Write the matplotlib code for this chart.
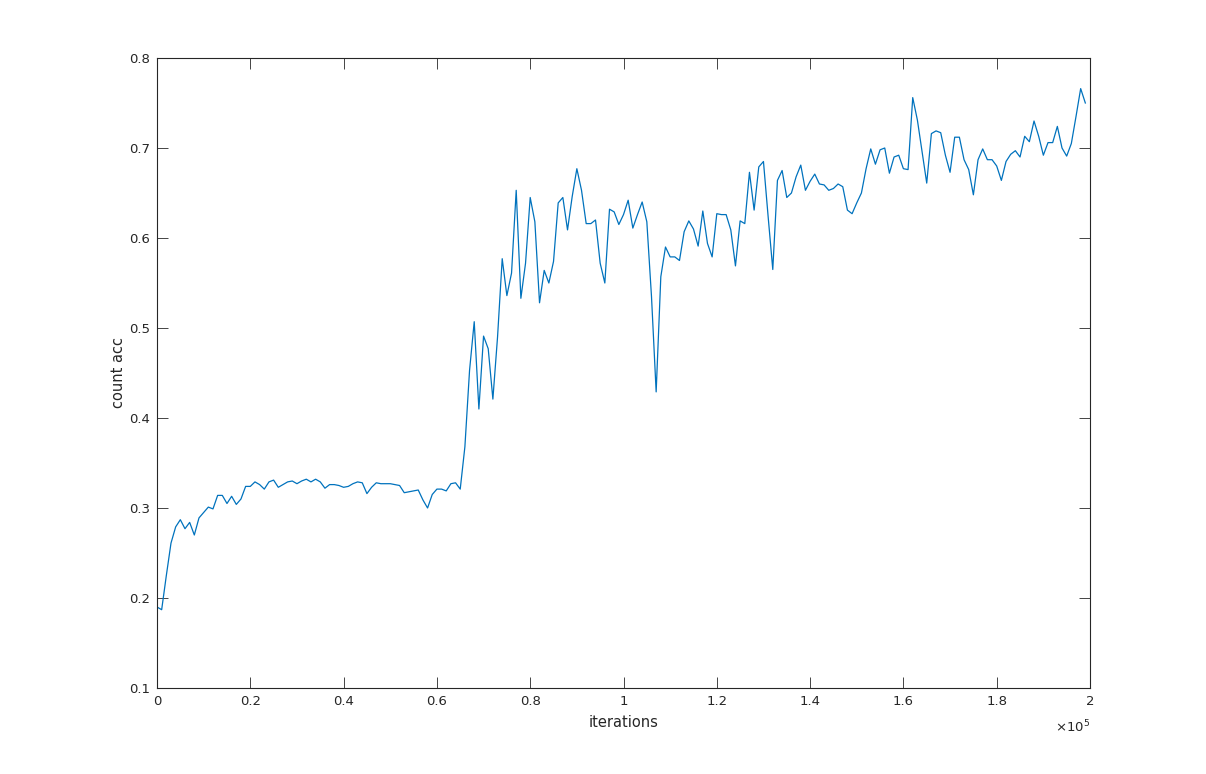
import matplotlib
matplotlib.use("Agg")
import matplotlib.pyplot as plt
import numpy as np

plt.rcParams['font.family'] = ['DejaVu Sans']
plt.rcParams['mathtext.fontset'] = 'dejavusans'

iterations = np.arange(0, 200000, 1000)
count_acc = [
    0.190, 0.187, 0.225, 0.261, 0.279, 0.287, 0.277, 0.284, 0.270, 0.289,
    0.295, 0.301, 0.299, 0.314, 0.314, 0.305, 0.313, 0.304, 0.310, 0.324,
    0.324, 0.329, 0.326, 0.321, 0.329, 0.331, 0.323, 0.326, 0.329, 0.330,
    0.327, 0.330, 0.332, 0.329, 0.332, 0.329, 0.322, 0.326, 0.326, 0.325,
    0.323, 0.324, 0.327, 0.329, 0.328, 0.316, 0.323, 0.328, 0.327, 0.327,
    0.327, 0.326, 0.325, 0.317, 0.318, 0.319, 0.320, 0.309, 0.300, 0.315,
    0.321, 0.321, 0.319, 0.327, 0.328, 0.321, 0.368, 0.453, 0.507, 0.410,
    0.491, 0.477, 0.421, 0.490, 0.577, 0.536, 0.561, 0.653, 0.533, 0.572,
    0.645, 0.618, 0.528, 0.564, 0.550, 0.574, 0.639, 0.645, 0.609, 0.646,
    0.677, 0.653, 0.616, 0.616, 0.620, 0.572, 0.550, 0.632, 0.629, 0.615,
    0.626, 0.642, 0.611, 0.626, 0.640, 0.618, 0.535, 0.429, 0.557, 0.590,
    0.579, 0.579, 0.575, 0.607, 0.619, 0.610, 0.591, 0.630, 0.594, 0.579,
    0.627, 0.626, 0.626, 0.609, 0.569, 0.619, 0.616, 0.673, 0.631, 0.679,
    0.685, 0.624, 0.565, 0.664, 0.675, 0.645, 0.650, 0.668, 0.681, 0.653,
    0.663, 0.671, 0.660, 0.659, 0.653, 0.655, 0.660, 0.657, 0.631, 0.627,
    0.639, 0.650, 0.677, 0.699, 0.682, 0.698, 0.700, 0.672, 0.690, 0.692,
    0.677, 0.676, 0.756, 0.731, 0.696, 0.661, 0.716, 0.719, 0.717, 0.692,
    0.673, 0.712, 0.712, 0.687, 0.676, 0.648, 0.687, 0.699, 0.687, 0.687,
    0.680, 0.664, 0.685, 0.693, 0.697, 0.690, 0.713, 0.707, 0.730, 0.713,
    0.692, 0.706, 0.706, 0.724, 0.700, 0.691, 0.705, 0.735, 0.766, 0.750,
]

x_ticks = [0, 0.2, 0.4, 0.6, 0.8, 1.0, 1.2, 1.4, 1.6, 1.8, 2.0]
x_tick_labels = ['0', '0.2', '0.4', '0.6', '0.8', '1', '1.2', '1.4', '1.6', '1.8', '2']
y_ticks = [0.1, 0.2, 0.3, 0.4, 0.5, 0.6, 0.7, 0.8]
y_tick_labels = ['0.1', '0.2', '0.3', '0.4', '0.5', '0.6', '0.7', '0.8']

fig = plt.figure(figsize=(12.06, 7.74), dpi=100)
ax = fig.add_axes([157/1206, 1-688/774, (1090-157)/1206, (688-58)/774])
ax.plot(iterations, count_acc, color='#0072BD', linewidth=0.9)

ax.set_xlim(0, 200000)
ax.set_ylim(0.1, 0.8)
ax.set_xticks([t*1e5 for t in x_ticks])
ax.set_xticklabels(x_tick_labels)
ax.set_yticks(y_ticks)
ax.set_yticklabels(y_tick_labels)
ax.tick_params(direction='in', length=8, width=0.6, top=True, right=True,
               labelsize=9.5, colors='#262626', pad=5)
for s in ax.spines.values():
    s.set_linewidth(0.8)
    s.set_color('#262626')

ax.set_xlabel('iterations', fontsize=10.5, color='#262626', labelpad=5)
ax.set_ylabel('count acc', fontsize=10.5, color='#262626', labelpad=2)
ax.text(1.0, -0.048, r'$\times10^{5}$', transform=ax.transAxes, ha='right', va='top',
        fontsize=9.5, color='#262626')

fig.savefig('out.png', dpi=100)
